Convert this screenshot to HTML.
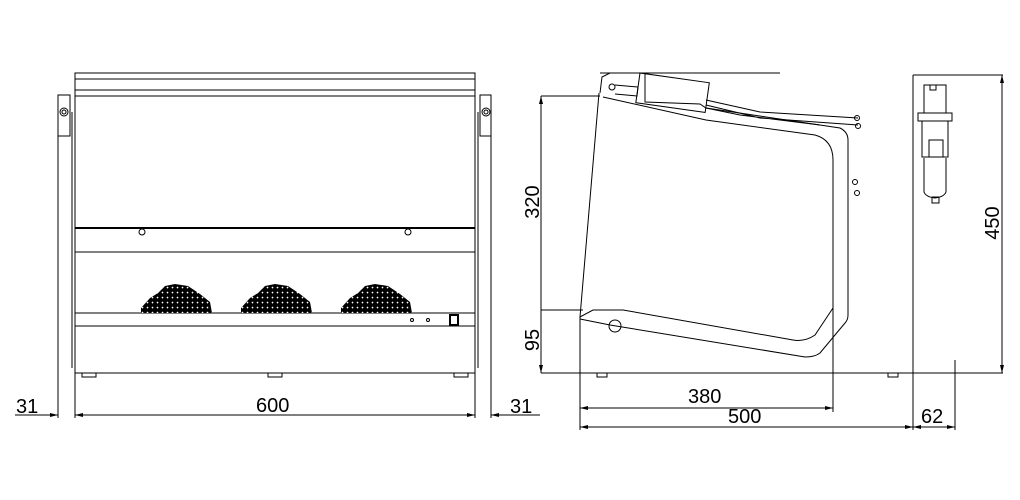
<!DOCTYPE html>
<html><head><meta charset="utf-8"><style>
html,body{margin:0;padding:0;background:#fff;width:1020px;height:500px;overflow:hidden}
svg{display:block}
text{font-family:"Liberation Sans",sans-serif;font-size:20px;fill:#000}
</style></head><body>
<svg width="1020" height="500" viewBox="0 0 1020 500" xmlns="http://www.w3.org/2000/svg">
<defs>
<pattern id="g" width="5" height="5" patternUnits="userSpaceOnUse">
<rect width="5" height="5" fill="#000"/><rect x="1.8" y="1.8" width="1.5" height="1.5" fill="#fff" transform="rotate(45 2.5 2.5)"/>
</pattern>
<marker id="a" markerWidth="8" markerHeight="4" refX="8" refY="2" orient="auto-start-reverse"><path d="M0,0 L8,2 L0,4z" fill="#000"/></marker>
</defs>
<g stroke="#000" fill="none" stroke-width="1">
<rect x="75" y="73" width="400" height="300"/>
<line x1="75" y1="79" x2="475" y2="79"/>
<line x1="75" y1="90" x2="475" y2="90"/>
<line x1="75" y1="96" x2="475" y2="96"/>
<line x1="75" y1="228" x2="475" y2="228" stroke-width="2"/>
<line x1="75" y1="252" x2="475" y2="252"/>
<line x1="75" y1="313" x2="475" y2="313"/>
<line x1="75" y1="326" x2="475" y2="326"/>
<line x1="72" y1="112" x2="72" y2="368"/><line x1="478" y1="112" x2="478" y2="368"/>
<rect x="58" y="95" width="12" height="41"/><rect x="480" y="95" width="11" height="41"/>
<line x1="58" y1="136" x2="58" y2="418"/><line x1="491" y1="136" x2="491" y2="418"/>
<line x1="75" y1="373" x2="75" y2="418"/><line x1="475" y1="373" x2="475" y2="418"/>
<circle cx="64" cy="112" r="4"/><circle cx="64" cy="112" r="2"/>
<circle cx="486" cy="112" r="4"/><circle cx="486" cy="112" r="2"/>
<circle cx="142" cy="232" r="3"/><circle cx="408" cy="232" r="3"/>
<rect x="82" y="373" width="14" height="4"/><rect x="268" y="373" width="14" height="4"/><rect x="454" y="373" width="14" height="4"/>
<rect x="450" y="315" width="8" height="10" stroke-width="2"/>
<circle cx="412" cy="320" r="1.5"/><circle cx="428" cy="320" r="1.5"/>
<line x1="15" y1="415" x2="58" y2="415" marker-end="url(#a)"/>
<line x1="75" y1="415" x2="475" y2="415" marker-start="url(#a)" marker-end="url(#a)"/>
<line x1="491" y1="415" x2="540" y2="415" marker-start="url(#a)"/>
</g>
<polygon points="141,313 141,308 150,298 158,293 165,286 175,284 188,286 200,294 210,302 212,313" fill="url(#g)"/>
<polygon points="241,313 241,308 250,298 258,293 265,286 275,284 288,286 300,294 310,302 312,313" fill="url(#g)"/>
<polygon points="341,313 341,308 350,298 358,293 365,286 375,284 388,286 400,294 410,302 412,313" fill="url(#g)"/>
<text x="16" y="413">31</text>
<text x="256" y="412">600</text>
<text x="510" y="413">31</text>
<g stroke="#000" fill="none" stroke-width="1">
<line x1="541" y1="96" x2="600" y2="96"/>
<line x1="541" y1="310" x2="583" y2="310"/>
<line x1="541" y1="373" x2="1003" y2="373"/>
<line x1="541" y1="96" x2="541" y2="373" marker-start="url(#a)" marker-end="url(#a)"/>
<line x1="600" y1="73" x2="780" y2="73"/>
<line x1="913" y1="75" x2="1003" y2="75"/>
<line x1="1002" y1="75" x2="1002" y2="373" marker-start="url(#a)" marker-end="url(#a)"/>
<path d="M599,93 L580,317 L593,310 L623,310 L793,340 Q805,342 815,335 L833,308 L833,160 Q833,140 815,135 L706,120 L603,97"/>
<path d="M600,93 L602,77 L610,73 L645,73 L645,102 L700,104 L706,108 L840,128 Q848,132 848,140 L848,315 Q848,320 845,323 L820,353 Q815,357 805,357 L610,325 L580,319"/>
<circle cx="615" cy="326" r="6"/>
<rect x="640" y="73" width="70" height="30" transform="rotate(8 640 73)"/>
<circle cx="612" cy="87" r="3"/>
<path d="M615,85 L638,87 L637,96 L615,94"/>
<path d="M706,100 L760,112 L858,118 M706,105 L760,118 L858,125 M706,108 L740,115 L820,125"/>
<circle cx="857" cy="118" r="2.5"/><circle cx="858" cy="126" r="2.5"/>
<circle cx="855" cy="182" r="2.5"/><circle cx="857" cy="193" r="2.5"/>
<rect x="597" y="373" width="10" height="4"/><rect x="888" y="373" width="10" height="4"/>
<line x1="580" y1="317" x2="580" y2="430"/>
<line x1="833" y1="300" x2="833" y2="412"/>
<line x1="913" y1="75" x2="913" y2="430"/>
<line x1="955" y1="360" x2="955" y2="430"/>
<line x1="580" y1="408" x2="833" y2="408" marker-start="url(#a)" marker-end="url(#a)"/>
<line x1="580" y1="427" x2="913" y2="427" marker-start="url(#a)" marker-end="url(#a)"/>
<line x1="913" y1="427" x2="955" y2="427" marker-start="url(#a)" marker-end="url(#a)"/>
<rect x="924" y="85" width="22" height="28"/>
<rect x="930" y="85" width="6" height="5"/>
<rect x="918" y="113" width="34" height="8"/>
<rect x="922" y="121" width="26" height="36"/>
<rect x="929" y="140" width="14" height="17"/>
<path d="M924,158 L924,192 Q926,197 935,198 Q944,197 946,192 L946,158"/>
<rect x="932" y="197" width="7" height="6"/>
</g>
<text text-anchor="middle" transform="translate(539,202) rotate(-90)">320</text>
<text text-anchor="middle" transform="translate(539,340) rotate(-90)">95</text>
<text text-anchor="middle" transform="translate(999,223) rotate(-90)">450</text>
<text x="688" y="403">380</text>
<text x="728" y="423">500</text>
<text x="921" y="423">62</text>
</svg>
</body></html>
